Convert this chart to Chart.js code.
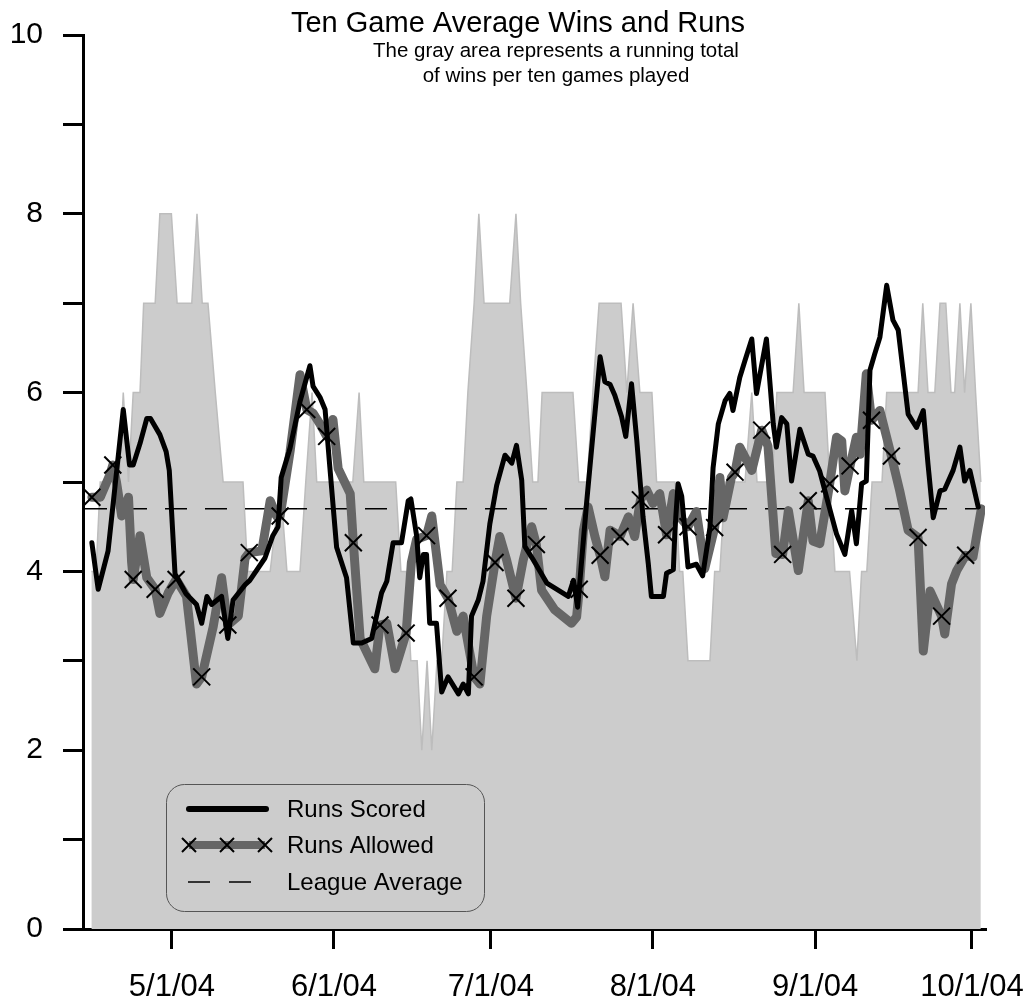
<!DOCTYPE html>
<html>
<head>
<meta charset="utf-8">
<script src="https://cdn.jsdelivr.net/npm/chart.js@4.4.0/dist/chart.umd.min.js"></script>
<style>
html, body { margin: 0; padding: 0; background: #ffffff; }
#wrap { width: 1032px; height: 1004px; }
</style>
</head>
<body>
<div id="wrap"><canvas id="c" width="1032" height="1004"></canvas></div>
<script>
// ---------- text ----------
const titleText = 'Ten Game Average Wins and Runs';
const subtitleLines = ['The gray area represents a running total', 'of wins per ten games played'];
const legendLabels = ['Runs Scored', 'Runs Allowed', 'League Average'];

// ---------- x axis (day of year 2004) ----------
const xTickDays = [122, 153, 183, 214, 245, 275];
const xTickLabels = ['5/1/04', '6/1/04', '7/1/04', '8/1/04', '9/1/04', '10/1/04'];
const X_MIN = 105;
const X_MAX = 277.5;

// ---------- league average ----------
const leagueAverage = 4.7;

// ---------- wins per ten games (gray area) ----------
const winsDays = [106.6,107.5,108.3,111.9,112.7,113.7,114.6,115.9,116.6,118.8,
  119.7,121.9,123.0,125.8,126.8,127.8,128.9,130.3,131.8,135.6,
  136.5,140.8,142.7,144.0,146.5,147.6,148.8,149.7,156.6,157.8,
  158.7,164.8,165.8,166.8,167.7,168.9,169.8,170.8,171.7,172.7,
  173.6,174.6,175.6,176.5,177.7,178.6,179.8,180.7,181.7,186.6,
  187.8,188.7,189.9,191.0,192.0,192.8,198.7,199.8,201.4,202.5,
  203.7,207.9,209.0,210.2,211.5,213.8,214.7,218.2,219.1,219.7,
  220.7,224.9,225.8,226.8,227.8,231.6,232.9,233.9,236.8,237.7,
  240.8,241.9,242.9,246.9,247.8,248.8,251.6,253.0,253.9,254.9,
  255.9,257.8,258.7,264.7,265.6,266.6,267.9,268.9,270.0,271.0,
  271.7,272.7,273.6,274.8,275.7,276.7];
const winsValues = [4,4,5,5,6,5,6,6,7,7,
  8,8,7,7,8,7,7,6,5,5,
  4,4,5,4,4,5,6,5,5,6,
  5,5,4,4,3,3,2,3,2,3,
  3,4,4,5,5,6,7,8,7,7,
  8,7,6,5,5,6,6,5,5,6,
  7,7,6,7,6,6,5,5,4,4,
  3,3,4,4,5,5,6,5,5,6,
  6,7,6,6,5,4,4,3,4,4,
  5,5,6,6,7,6,6,7,7,6,
  6,7,6,7,6,5];

// ---------- runs scored (ten game average) ----------
const scoredDays = [106.7,107.9,109.8,112.7,113.9,114.6,115.9,117.2,117.9,119.7,
  120.9,121.5,122.6,124.7,126.7,127.7,128.7,129.6,131.5,132.7,
  133.7,136.0,136.9,139.8,141.3,142.3,142.9,144.6,146.5,148.4,
  149.0,150.3,151.3,152.2,153.5,155.4,156.7,158.3,160.2,162.1,
  163.1,164.3,165.9,167.2,167.7,168.8,169.4,170.1,170.7,171.3,
  172.6,173.6,174.8,176.8,177.7,178.7,179.3,180.6,181.5,182.8,
  184.1,185.7,187.0,187.9,188.9,189.5,191.1,193.7,197.8,198.8,
  199.6,201.3,202.9,203.9,204.8,205.8,206.7,208.0,208.8,209.9,
  210.9,212.1,213.1,213.7,216.0,216.6,217.9,218.2,218.8,219.5,
  220.1,220.7,222.3,223.5,224.9,225.5,226.5,227.8,228.7,229.3,
  230.6,231.6,232.9,233.8,235.7,237.0,237.6,238.6,239.6,240.5,
  242.1,243.7,244.6,245.9,247.2,249.1,250.7,252.0,252.9,253.9,
  254.8,255.5,256.4,257.4,258.7,259.9,260.9,262.8,264.4,265.7,
  266.6,267.6,268.9,269.8,271.4,272.7,273.6,274.6,276.2];
const scoredValues = [4.32,3.80,4.23,5.81,5.19,5.19,5.43,5.71,5.71,5.53,
  5.34,5.13,3.97,3.75,3.63,3.42,3.72,3.63,3.72,3.25,
  3.68,3.85,3.90,4.15,4.40,4.50,5.05,5.38,5.90,6.30,
  6.07,5.95,5.81,5.17,4.27,3.93,3.20,3.20,3.25,3.76,
  3.89,4.32,4.32,4.79,4.81,4.40,3.93,4.19,4.19,3.42,
  3.42,2.65,2.82,2.63,2.74,2.63,3.50,3.68,3.89,4.53,
  4.96,5.30,5.21,5.41,5.02,4.28,4.13,3.87,3.72,3.90,
  3.60,4.76,5.77,6.40,6.12,6.09,5.97,5.73,5.51,6.10,
  5.47,4.61,4.09,3.72,3.72,3.98,4.02,4.46,4.98,4.84,
  4.46,4.05,4.08,3.95,4.49,5.16,5.65,5.91,5.99,5.80,
  6.17,6.36,6.60,5.99,6.60,5.65,5.39,5.72,5.65,5.01,
  5.59,5.31,5.29,5.12,4.83,4.42,4.19,4.68,4.31,4.98,
  5.01,6.25,6.43,6.62,7.20,6.81,6.70,5.76,5.61,5.80,
  5.20,4.60,4.90,4.92,5.13,5.39,5.01,5.13,4.72];

// ---------- runs allowed (ten game average) ----------
const allowedDays = [106.7,108.3,110.2,110.7,111.4,112.4,113.7,114.3,114.6,115.9,
  117.2,118.8,119.7,121.3,122.8,124.8,126.7,127.7,129.9,131.5,
  132.7,134.7,136.0,136.8,139.2,140.8,142.0,142.7,144.6,146.5,
  147.8,149.0,150.3,151.6,152.8,153.8,156.1,156.7,158.0,160.8,
  161.8,163.1,164.7,166.8,167.8,168.8,170.7,171.7,173.3,174.8,
  176.5,177.7,179.8,180.9,182.2,183.8,184.7,186.0,187.8,189.2,
  190.8,191.7,192.7,195.2,198.4,199.4,199.9,200.7,201.6,202.9,
  203.9,204.8,205.8,206.7,207.7,209.3,210.5,211.6,212.8,214.0,
  215.3,216.6,217.9,219.1,220.7,222.3,223.9,225.8,226.8,227.4,
  229.0,229.7,230.6,232.9,234.8,236.0,237.5,238.8,239.9,241.8,
  243.7,244.6,245.9,247.8,249.1,250.1,250.7,251.7,252.9,253.6,
  254.8,255.8,257.4,259.6,261.2,262.8,264.7,265.7,267.0,269.2,
  269.8,271.1,272.1,273.8,275.2,276.8];
const allowedValues = [4.83,4.83,5.09,5.19,5.00,4.62,4.83,4.10,3.91,4.40,
  3.93,3.80,3.53,3.76,3.91,3.72,2.74,2.82,3.38,3.93,
  3.40,3.50,4.15,4.21,4.23,4.79,4.62,4.62,5.34,6.20,
  5.81,5.77,5.65,5.51,5.70,5.15,4.87,4.32,3.25,2.91,
  3.40,3.42,2.91,3.31,4.10,4.36,4.40,4.62,3.85,3.70,
  3.33,3.50,2.82,2.74,3.50,4.10,4.39,4.13,3.70,4.13,
  4.50,4.30,3.79,3.57,3.42,3.49,3.80,4.46,4.72,4.39,
  4.18,3.94,4.46,4.43,4.39,4.61,4.39,4.80,4.91,4.76,
  4.87,4.41,4.87,4.61,4.50,4.67,4.03,4.49,5.05,4.60,
  5.05,5.11,5.39,5.13,5.58,5.40,4.20,4.19,4.68,4.01,
  4.79,4.34,4.31,4.98,5.50,5.46,4.90,5.18,5.50,5.31,
  6.21,5.69,5.80,5.29,4.90,4.46,4.38,3.11,3.78,3.50,
  3.30,3.86,4.01,4.18,4.16,4.70];
// games at which an X marker is drawn on the runs allowed line
const allowedMarkerDays = [106.7,110.7,114.6,118.8,122.8,127.7,132.7,136.8,142.7,147.8,
  151.6,156.7,161.8,166.8,170.7,174.8,179.8,183.8,187.8,191.7,
  199.9,203.9,207.7,211.6,216.6,220.7,225.8,229.7,234.8,238.8,
  243.7,247.8,251.7,255.8,259.6,264.7,269.2,273.8];

// ---------- styles ----------
const FONT = '"Liberation Sans", Arial, Helvetica, sans-serif';
const AREA_FILL = '#cccccc';
const AREA_EDGE = '#bdbdbd';
const ALLOWED_COLOR = '#666666';
const SCORED_COLOR = '#000000';

const pairs = (xs, ys) => xs.map((x, i) => ({ x: x, y: ys[i] }));

Chart.defaults.font.family = FONT;
Chart.defaults.color = '#000';

const decorPlugin = {
  id: 'decor',
  afterDraw(chart) {
    const ctx = chart.ctx;
    ctx.save();
    // title
    ctx.fillStyle = '#000';
    ctx.textAlign = 'center';
    ctx.textBaseline = 'alphabetic';
    ctx.font = '29px ' + FONT;
    ctx.fillText(titleText, 518, 32);
    ctx.font = '20.5px ' + FONT;
    ctx.fillText(subtitleLines[0], 556, 57);
    ctx.fillText(subtitleLines[1], 556, 82);

    // legend box
    const bx = 166.5, by = 784.5, bw = 318, bh = 127, r = 18;
    ctx.beginPath();
    ctx.moveTo(bx + r, by);
    ctx.lineTo(bx + bw - r, by);
    ctx.arcTo(bx + bw, by, bx + bw, by + r, r);
    ctx.lineTo(bx + bw, by + bh - r);
    ctx.arcTo(bx + bw, by + bh, bx + bw - r, by + bh, r);
    ctx.lineTo(bx + r, by + bh);
    ctx.arcTo(bx, by + bh, bx, by + bh - r, r);
    ctx.lineTo(bx, by + r);
    ctx.arcTo(bx, by, bx + r, by, r);
    ctx.closePath();
    ctx.strokeStyle = '#555555';
    ctx.lineWidth = 1;
    ctx.stroke();

    const rows = [809, 845, 882];
    // runs scored sample
    ctx.lineCap = 'round';
    ctx.strokeStyle = SCORED_COLOR;
    ctx.lineWidth = 6;
    ctx.beginPath(); ctx.moveTo(189, rows[0]); ctx.lineTo(266, rows[0]); ctx.stroke();
    // runs allowed sample
    ctx.lineCap = 'butt';
    ctx.strokeStyle = ALLOWED_COLOR;
    ctx.lineWidth = 8;
    ctx.beginPath(); ctx.moveTo(189, rows[1]); ctx.lineTo(265, rows[1]); ctx.stroke();
    ctx.strokeStyle = '#000';
    ctx.lineWidth = 2;
    [189, 227, 265].forEach(cx => {
      const h = 7;
      ctx.beginPath();
      ctx.moveTo(cx - h, rows[1] - h); ctx.lineTo(cx + h, rows[1] + h);
      ctx.moveTo(cx - h, rows[1] + h); ctx.lineTo(cx + h, rows[1] - h);
      ctx.stroke();
    });
    // league average sample
    ctx.lineWidth = 1.5;
    ctx.beginPath();
    ctx.moveTo(188, rows[2]); ctx.lineTo(210, rows[2]);
    ctx.moveTo(229, rows[2]); ctx.lineTo(251, rows[2]);
    ctx.stroke();

    // legend text
    ctx.fillStyle = '#000';
    ctx.textAlign = 'left';
    ctx.textBaseline = 'middle';
    ctx.font = '24px ' + FONT;
    legendLabels.forEach((t, i) => ctx.fillText(t, 287, rows[i] + 1));
    ctx.restore();
  }
};

new Chart(document.getElementById('c'), {
  type: 'line',
  data: {
    datasets: [
      {
        label: legendLabels[0],
        data: pairs(scoredDays, scoredValues),
        borderColor: SCORED_COLOR,
        borderWidth: 5,
        borderJoinStyle: 'round',
        borderCapStyle: 'round',
        pointRadius: 0,
        fill: false,
        tension: 0
      },
      {
        label: legendLabels[1],
        data: pairs(allowedDays, allowedValues),
        borderColor: ALLOWED_COLOR,
        borderWidth: 9,
        borderJoinStyle: 'round',
        borderCapStyle: 'round',
        pointStyle: 'crossRot',
        pointRadius: (c) => (c.raw && allowedMarkerDays.includes(c.raw.x)) ? 12 : 0,
        pointHoverRadius: (c) => (c.raw && allowedMarkerDays.includes(c.raw.x)) ? 12 : 0,
        pointBorderColor: '#000',
        pointBorderWidth: 2,
        pointBackgroundColor: '#000',
        fill: false,
        tension: 0
      },
      {
        label: legendLabels[2],
        data: [{ x: X_MIN, y: leagueAverage }, { x: X_MAX, y: leagueAverage }],
        borderColor: '#000',
        borderWidth: 1.5,
        borderDash: [22, 18],
        borderDashOffset: -2,
        pointRadius: 0,
        fill: false,
        tension: 0
      },
      {
        label: 'Wins per ten games',
        data: pairs(winsDays, winsValues),
        borderColor: AREA_EDGE,
        borderWidth: 1.5,
        backgroundColor: AREA_FILL,
        pointRadius: 0,
        fill: 'origin',
        tension: 0
      }
    ]
  },
  options: {
    responsive: false,
    devicePixelRatio: 1,
    animation: false,
    events: [],
    layout: { padding: { top: 35, right: 47, bottom: 0, left: 0 } },
    plugins: {
      legend: { display: false },
      title: { display: false },
      tooltip: { enabled: false }
    },
    scales: {
      x: {
        type: 'linear',
        min: X_MIN,
        max: X_MAX,
        afterBuildTicks: (scale) => { scale.ticks = xTickDays.map(v => ({ value: v })); },
        afterFit: (scale) => { scale.height = 75; scale.paddingRight = 0; scale.paddingLeft = 0; },
        border: { display: true, color: '#000', width: 3 },
        grid: { display: true, drawOnChartArea: false, drawTicks: true, tickLength: 20, tickWidth: 3, lineWidth: 3, tickColor: '#000', color: '#000' },
        ticks: {
          autoSkip: false,
          maxRotation: 0,
          padding: 20,
          color: '#000',
          font: { size: 31, family: FONT },
          callback: (v) => { const i = xTickDays.indexOf(v); return i >= 0 ? xTickLabels[i] : ''; }
        }
      },
      y: {
        type: 'linear',
        min: 0,
        max: 10,
        afterFit: (scale) => { scale.width = 83; scale.paddingTop = 0; scale.paddingBottom = 0; },
        border: { display: true, color: '#000', width: 3 },
        grid: { display: true, drawOnChartArea: false, drawTicks: true, tickLength: 20, tickWidth: 3, lineWidth: 3, tickColor: '#000', color: '#000' },
        ticks: {
          stepSize: 1,
          padding: 20,
          color: '#000',
          font: { size: 30, family: FONT },
          callback: (v) => (v % 2 === 0 ? String(v) : '')
        }
      }
    }
  },
  plugins: [decorPlugin]
});
</script>
</body>
</html>
